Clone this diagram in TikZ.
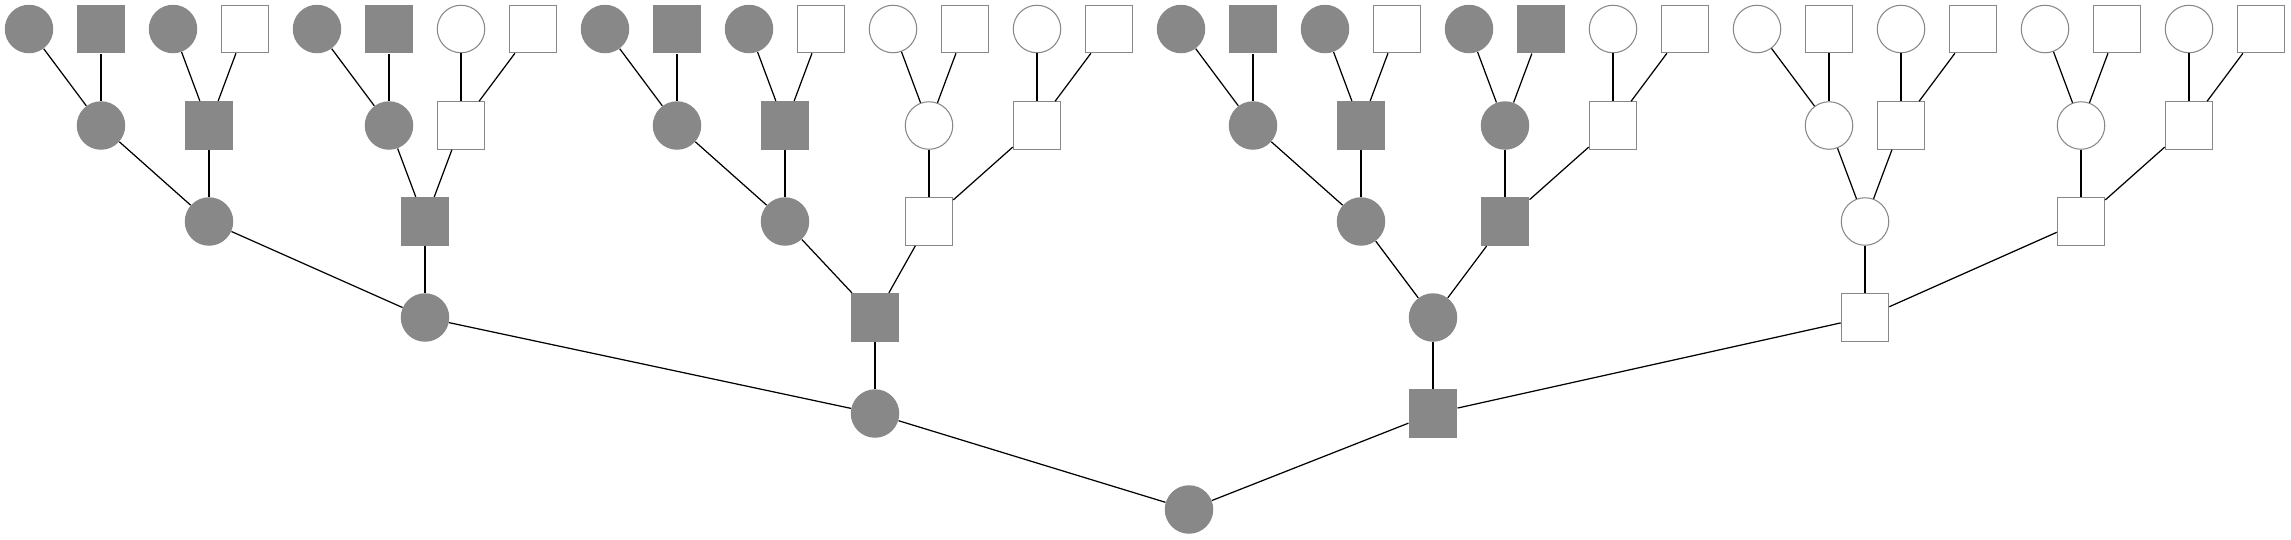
\documentclass[tikz,border=0pt]{standalone}
\usepackage{tikz}
\definecolor{kin}{HTML}{888888}

\begin{document}
\begin{tikzpicture}[x=0.02cm, y=-0.02cm,
  fc/.style={circle, fill=kin, minimum size=0.97cm, inner sep=0pt},
  fs/.style={rectangle, fill=kin, minimum size=0.97cm, inner sep=0pt},
  oc/.style={circle, draw=kin, fill=white, line width=0.6pt, minimum size=0.95cm, inner sep=0pt},
  os/.style={rectangle, draw=kin, fill=white, line width=0.6pt, minimum size=0.95cm, inner sep=0pt},
  link/.style={black, line width=0.7pt}]
\useasboundingbox (0,0) rectangle (2291,539);

% Leaves
\foreach \i/\st in {0/fc,1/fs,2/fc,3/os,4/fc,5/fs,6/oc,7/os,
                    8/fc,9/fs,10/fc,11/os,12/oc,13/os,14/oc,15/os,
                    16/fc,17/fs,18/fc,19/os,20/fc,21/fs,22/oc,23/os,
                    24/oc,25/os,26/oc,27/os,28/oc,29/os,30/oc,31/os}
  \node[\st] (l\i) at ({29+72*\i},29) {};

% Level 1
\foreach \i/\x/\st in {0/101/fc,1/209/fs,2/389/fc,3/461/os,
                       4/677/fc,5/785/fs,6/929/oc,7/1037/os,
                       8/1253/fc,9/1361/fs,10/1505/fc,11/1613/os,
                       12/1829/oc,13/1901/os,14/2081/oc,15/2189/os}
  \node[\st] (a\i) at (\x,125.5) {};

% Level 2
\foreach \i/\x/\st in {0/209/fc,1/425/fs,2/785/fc,3/929/os,
                       4/1361/fc,5/1505/fs,6/1865/oc,7/2081/os}
  \node[\st] (b\i) at (\x,221.5) {};

% Level 3
\foreach \i/\x/\st in {0/425/fc,1/875/fs,2/1433/fc,3/1865/os}
  \node[\st] (c\i) at (\x,317.5) {};

% Level 4 and root
\node[fc] (d0) at (875,413.5) {};
\node[fs] (d1) at (1433,413.5) {};
\node[fc] (r) at (1189,509.5) {};

% Links
\foreach \k in {0,...,15} {
  \pgfmathtruncatemacro{\m}{2*\k}
  \pgfmathtruncatemacro{\n}{2*\k+1}
  \draw[link] (a\k) -- (l\m);
  \draw[link] (a\k) -- (l\n);
}
\foreach \k in {0,...,7} {
  \pgfmathtruncatemacro{\m}{2*\k}
  \pgfmathtruncatemacro{\n}{2*\k+1}
  \draw[link] (b\k) -- (a\m);
  \draw[link] (b\k) -- (a\n);
}
\foreach \k in {0,...,3} {
  \pgfmathtruncatemacro{\m}{2*\k}
  \pgfmathtruncatemacro{\n}{2*\k+1}
  \draw[link] (c\k) -- (b\m);
  \draw[link] (c\k) -- (b\n);
}
\draw[link] (d0) -- (c0);
\draw[link] (d0) -- (c1);
\draw[link] (d1) -- (c2);
\draw[link] (d1) -- (c3);
\draw[link] (r) -- (d0);
\draw[link] (r) -- (d1);
\end{tikzpicture}
\end{document}
